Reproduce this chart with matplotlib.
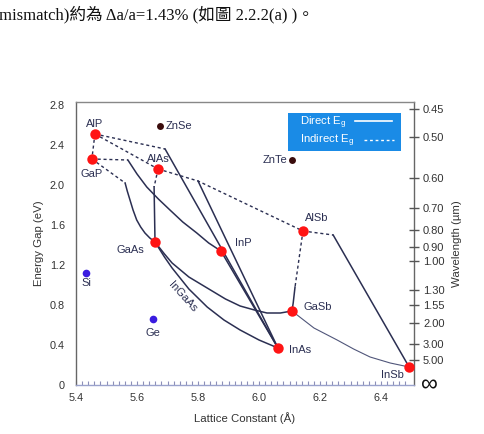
import matplotlib
matplotlib.use("Agg")
import numpy as np
import matplotlib.pyplot as plt
from matplotlib.patches import Rectangle
from matplotlib.lines import Line2D

# III-V binaries (red dots)
iii_v = ["AlP", "GaP", "AlAs", "GaAs", "InP", "AlSb", "GaSb", "InAs", "InSb"]
iii_v_a = [5.462, 5.452, 5.669, 5.659, 5.875, 6.144, 6.108, 6.062, 6.492]
iii_v_eg = [2.51, 2.26, 2.16, 1.43, 1.34, 1.54, 0.74, 0.37, 0.18]

# group IV (blue) and II-VI (dark) points
group_iv = ["Si", "Ge"]
group_iv_a = [5.433, 5.652]
group_iv_eg = [1.12, 0.66]
ii_vi = ["ZnSe", "ZnTe"]
ii_vi_a = [5.675, 6.108]
ii_vi_eg = [2.59, 2.25]

# indirect gap branches (dashed), (lattice list, gap list)
indirect = {
    "AlP-InAs": ([5.462, 5.692], [2.51, 2.36]),
    "AlP-AlAs": ([5.462, 5.669], [2.51, 2.16]),
    "AlAs-AlSb": ([5.669, 5.800, 6.144], [2.16, 2.04, 1.54]),
    "AlP-GaP": ([5.462, 5.452], [2.51, 2.26]),
    "GaP-InP": ([5.452, 5.570], [2.26, 2.25]),
    "GaP-GaAs": ([5.452, 5.561], [2.26, 2.02]),
    "AlAs-GaAs": ([5.669, 5.656], [2.16, 1.98]),
    "AlSb-GaSb": ([6.144, 6.118], [1.54, 0.98]),
    "AlSb-InSb": ([6.144, 6.243], [1.54, 1.50]),
}

# direct gap branches (solid)
direct = {
    "AlP-InAs": ([5.692, 6.062], [2.36, 0.37]),
    "AlAs-InAs": ([5.800, 6.062], [2.04, 0.37]),
    "GaP-InP": ([5.570, 5.600, 5.632, 5.670, 5.708, 5.750, 5.796, 5.835, 5.875],
                [2.25, 2.11, 1.98, 1.86, 1.75, 1.63, 1.52, 1.42, 1.34]),
    "GaP-GaAs": ([5.561, 5.568, 5.577, 5.587, 5.599, 5.612, 5.626, 5.642, 5.659],
                 [2.02, 1.94, 1.85, 1.75, 1.65, 1.58, 1.52, 1.47, 1.43]),
    "AlAs-GaAs": ([5.656, 5.659], [1.98, 1.43]),
    "InP-InAs": ([5.875, 6.062], [1.34, 0.37]),
    "GaAs-GaSb": ([5.659, 5.690, 5.715, 5.770, 5.830, 5.890, 5.938, 5.985, 6.026, 6.070, 6.108],
                  [1.43, 1.31, 1.22, 1.08, 0.97, 0.86, 0.79, 0.75, 0.72, 0.72, 0.74]),
    "GaAs-InAs": ([5.659, 5.690, 5.715, 5.770, 5.830, 5.885, 5.938, 6.000, 6.062],
                  [1.43, 1.28, 1.17, 0.96, 0.78, 0.65, 0.55, 0.45, 0.37]),
    "AlSb-GaSb": ([6.118, 6.112, 6.108], [0.98, 0.82, 0.74]),
    "AlSb-InSb": ([6.243, 6.492], [1.50, 0.18]),
}
gasb_insb_a = [6.108, 6.180, 6.256, 6.310, 6.364, 6.430, 6.492]
gasb_insb_eg = [0.74, 0.57, 0.45, 0.36, 0.28, 0.22, 0.18]

wl_labels = ["0.45", "0.50", "0.60", "0.70", "0.80", "0.90", "1.00",
             "1.30", "1.55", "2.00", "3.00", "5.00"]
wl_um = [0.45, 0.50, 0.60, 0.70, 0.80, 0.90, 1.00, 1.30, 1.55, 2.00, 3.00, 5.00]

# label placement (data coords, alignment)
label_pos = {
    "AlP": (5.462, 2.61, "center"), "GaP": (5.452, 2.11, "center"),
    "AlAs": (5.669, 2.26, "center"), "GaAs": (5.577, 1.35, "center"),
    "InP": (5.948, 1.42, "center"), "AlSb": (6.190, 1.67, "center"),
    "GaSb": (6.193, 0.78, "center"), "InAs": (6.134, 0.35, "center"),
    "InSb": (6.436, 0.10, "center"), "Si": (5.433, 1.02, "center"),
    "Ge": (5.652, 0.52, "center"), "ZnSe": (5.695, 2.59, "left"),
    "ZnTe": (6.092, 2.25, "right"),
}

ink = "#2b2f52"
plt.rcParams["font.family"] = ["Liberation Sans", "DejaVu Sans"]

fig = plt.figure(figsize=(4.84, 4.34), dpi=100)
ax = fig.add_axes([76 / 484, 1 - 385 / 434, 338 / 484, 283 / 434])
ax.set_xlim(5.4, 6.508)
ax.set_ylim(0, 2.83)

for xs, ys in indirect.values():
    ax.plot(xs, ys, color=ink, lw=1.0, dashes=(2.2, 2.0), zorder=2)
for xs, ys in direct.values():
    ax.plot(xs, ys, color=ink, lw=1.1, zorder=2)
ax.plot(gasb_insb_a, gasb_insb_eg, color="#50567a", lw=0.8, zorder=2)

ax.plot(iii_v_a, iii_v_eg, "o", color="#ff1414", ms=7.5, mec="none", zorder=4)
ax.plot(group_iv_a, group_iv_eg, "o", color="#3a1ce0", ms=5.5, mec="none", zorder=4)
ax.plot(ii_vi_a, ii_vi_eg, "o", color="#3a0c0c", ms=5, mec="none", zorder=4)

for name, (lx, ly, ha) in label_pos.items():
    ax.text(lx, ly, name, ha=ha, va="center", fontsize=8, color=ink)
ax.text(5.751, 0.88, "InGaAs", ha="center", va="center", fontsize=8,
        color=ink, rotation=-48)

# legend box
ax.add_patch(Rectangle((0.627, 0.827), 0.335, 0.134, transform=ax.transAxes,
                       facecolor="#1a8be6", edgecolor="none", zorder=5))
ax.text(0.662, 0.927, "Direct E$_\\mathregular{g}$", transform=ax.transAxes,
        color="white", fontsize=8.2, va="center", zorder=6)
ax.text(0.662, 0.864, "Indirect E$_\\mathregular{g}$", transform=ax.transAxes,
        color="white", fontsize=8.2, va="center", zorder=6)
ax.add_line(Line2D([0.825, 0.935], [0.932, 0.932], transform=ax.transAxes,
                   color="white", lw=1.2, zorder=6))
ax.add_line(Line2D([0.852, 0.94], [0.866, 0.866], transform=ax.transAxes,
                   color="white", lw=1.0, dashes=(2, 2), zorder=6))

ax.set_xticks([5.4, 5.6, 5.8, 6.0, 6.2, 6.4])
ax.set_xticklabels(["5.4", "5.6", "5.8", "6.0", "6.2", "6.4"])
ax.set_xticks(np.arange(5.42, 6.50, 0.02), minor=True)
ax.tick_params(axis="x", which="both", direction="in", length=3, width=0.8,
               color="#8c8fb8", labelsize=7.8, pad=6, labelcolor="#333")
ax.set_yticks([0, 0.4, 0.8, 1.2, 1.6, 2.0, 2.4, 2.8])
ax.set_yticklabels(["0", "0.4", "0.8", "1.2", "1.6", "2.0", "2.4", "2.8"])
ax.tick_params(axis="y", length=0, labelsize=7.8, pad=8, labelcolor="#333")

ax.set_xlabel("Lattice Constant (Å)", fontsize=8.2, color="#333", labelpad=6)
ax.set_ylabel("Energy Gap (eV)", fontsize=8.2, color="#333", labelpad=4)

ax.spines["bottom"].set_color("#9aa2cc")
ax.spines["left"].set_color("#666")
ax.spines["top"].set_color("#888")
ax.spines["right"].set_color("#666")
for s in ax.spines.values():
    s.set_linewidth(1.0)

ax2 = ax.twinx()
ax2.set_ylim(ax.get_ylim())
ax2.set_yticks([1.24 / w for w in wl_um])
ax2.set_yticklabels(wl_labels)
ax2.tick_params(axis="y", direction="inout", length=7, width=1.0,
                color="#555", labelsize=8, pad=3, labelcolor="#333")
ax2.text(1.045, 0.0, "∞", transform=ax2.transAxes, fontsize=17,
         va="center", ha="center", color="#111")
ax2.set_ylabel("Wavelength (µm)", fontsize=8.2, color="#333", labelpad=5)
for s in ax2.spines.values():
    s.set_visible(False)

fig.text(-0.002, 1 - 15 / 434, "mismatch)約為 Δa/a=1.43% (如圖 2.2.2(a) )。",
         family=["Liberation Serif", "Noto Sans CJK TC"], fontsize=12,
         va="center", ha="left", color="#111")

fig.savefig("out.png", dpi=100)
